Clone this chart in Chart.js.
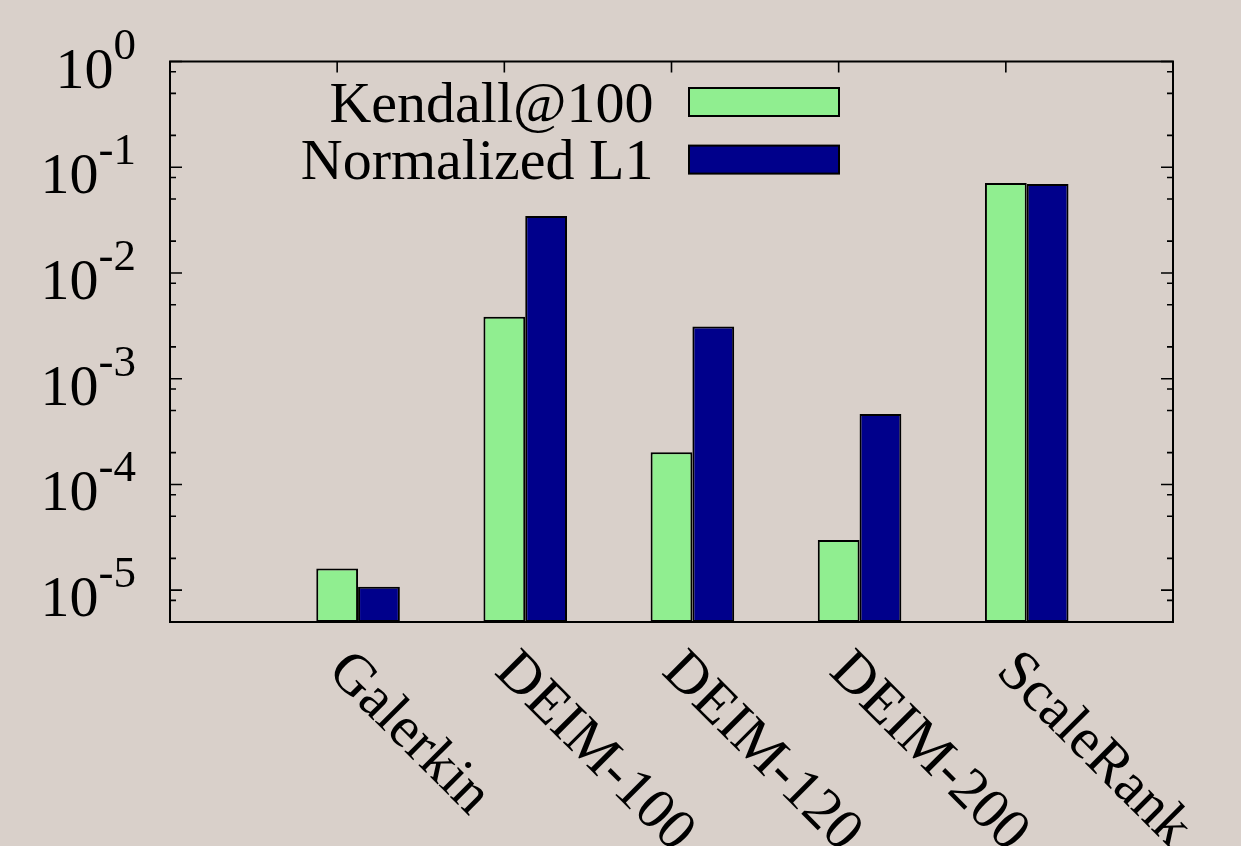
<!DOCTYPE html>
<html>
<head>
<meta charset="utf-8">
<script src="https://cdn.jsdelivr.net/npm/chart.js@4.4.1/dist/chart.umd.min.js"></script>
<style>
  html, body { margin: 0; padding: 0; background: #d9d0ca; }
  #wrap { width: 1241px; height: 846px; position: relative; }
</style>
</head>
<body>
<div id="wrap"><canvas id="chart"></canvas></div>
<script>
"use strict";

const categories = ["Galerkin", "DEIM-100", "DEIM-120", "DEIM-200", "ScaleRank"];
const kendall = [1.6e-5, 3.85e-3, 2.02e-4, 2.98e-5, 0.0711];
const normalizedL1 = [1.08e-5, 0.0345, 3.12e-3, 4.63e-4, 0.0696];
const seriesNames = ["Kendall@100", "Normalized L1"];
const yTickExponents = [0, -1, -2, -3, -4, -5];
const yMinorMultipliers = [2, 5, 8];

const mainFont = '58px "Liberation Serif"';
const supFont = '45px "Liberation Serif"';

// gnuplot look: inward ticks on both sides, superscript labels,
// rotated category names and a legend with the text left of the box
const gnuplotFrame = {
  id: "gnuplotFrame",
  beforeDraw(chart) {
    const { ctx, width, height } = chart;
    ctx.save();
    ctx.fillStyle = "#d9d0ca";
    ctx.fillRect(0, 0, width, height);
    ctx.restore();
  },
  afterDatasetsDraw(chart) {
    const { ctx, chartArea: area } = chart;
    const yScale = chart.scales.y;
    const firstBars = chart.getDatasetMeta(0).data;

    ctx.save();
    ctx.strokeStyle = "#000";
    ctx.fillStyle = "#000";
    ctx.lineWidth = 1.6;

    ctx.beginPath();
    yTickExponents.forEach((e) => {
      const py = yScale.getPixelForValue(Math.pow(10, e));
      ctx.moveTo(area.left, py);
      ctx.lineTo(area.left + 12, py);
      ctx.moveTo(area.right, py);
      ctx.lineTo(area.right - 12, py);
      yMinorMultipliers.forEach((m) => {
        const pm = yScale.getPixelForValue(m * Math.pow(10, e - 1));
        if (pm >= area.bottom - 1) return;
        ctx.moveTo(area.left, pm);
        ctx.lineTo(area.left + 6, pm);
        ctx.moveTo(area.right, pm);
        ctx.lineTo(area.right - 6, pm);
      });
    });
    // x tics sit on the first bar of each cluster, only on the top border
    firstBars.forEach((bar) => {
      ctx.moveTo(bar.x, area.top);
      ctx.lineTo(bar.x, area.top + 11);
    });
    ctx.stroke();

    ctx.lineWidth = 2;
    ctx.strokeRect(area.left, area.top, area.right - area.left, area.bottom - area.top);

    // y labels: 10 with the exponent raised
    ctx.textBaseline = "alphabetic";
    const labelRight = area.left - 34;
    yTickExponents.forEach((e) => {
      const py = yScale.getPixelForValue(Math.pow(10, e));
      const sup = String(e);
      ctx.font = supFont;
      const supW = ctx.measureText(sup).width;
      ctx.textAlign = "left";
      ctx.fillText(sup, labelRight - supW, py - 3);
      ctx.font = mainFont;
      ctx.textAlign = "right";
      ctx.fillText("10", labelRight - supW, py + 26);
    });

    // category names rotated down to the right
    ctx.font = mainFont;
    ctx.textAlign = "left";
    firstBars.forEach((bar, i) => {
      ctx.save();
      ctx.translate(bar.x, area.bottom + 40);
      ctx.rotate(Math.PI / 4);
      ctx.fillText(categories[i], 0, 15.6);
      ctx.restore();
    });

    // legend
    const boxLeft = area.left + 519;
    ctx.lineWidth = 2;
    chart.data.datasets.forEach((ds, i) => {
      const cy = area.top + 40.5 + i * 57.6;
      ctx.fillStyle = ds.backgroundColor;
      ctx.fillRect(boxLeft, cy - 14, 150, 28);
      ctx.strokeRect(boxLeft, cy - 14, 150, 28);
      ctx.fillStyle = "#000";
      ctx.textAlign = "right";
      ctx.fillText(ds.label, boxLeft - 35.5, cy + 19.7);
    });

    ctx.restore();
  },
};

new Chart(document.getElementById("chart"), {
  type: "bar",
  data: {
    datasets: [
      {
        label: seriesNames[0],
        data: kendall.map((v, i) => ({ x: i, y: v })),
        backgroundColor: "#90ee90",
      },
      {
        label: seriesNames[1],
        data: normalizedL1.map((v, i) => ({ x: i, y: v })),
        backgroundColor: "#00008b",
      },
    ],
  },
  options: {
    responsive: true,
    maintainAspectRatio: false,
    animation: false,
    events: [],
    layout: {
      padding: { left: 170, right: 68, top: 61.5, bottom: 224 },
    },
    elements: {
      bar: {
        borderColor: "#000",
        borderWidth: 2,
        borderSkipped: false,
      },
    },
    datasets: {
      bar: {
        categoryPercentage: 0.5,
        barPercentage: 1.0,
      },
    },
    plugins: {
      legend: { display: false },
      tooltip: { enabled: false },
    },
    scales: {
      x: {
        type: "linear",
        display: false,
        offset: false,
        min: -1.125,
        max: 4.875,
        afterBuildTicks: (axis) => {
          axis.ticks = categories.map((c, i) => ({ value: i }));
        },
      },
      y: {
        type: "logarithmic",
        display: false,
        min: 5e-6,
        max: 1,
      },
    },
  },
  plugins: [gnuplotFrame],
});
</script>
</body>
</html>
